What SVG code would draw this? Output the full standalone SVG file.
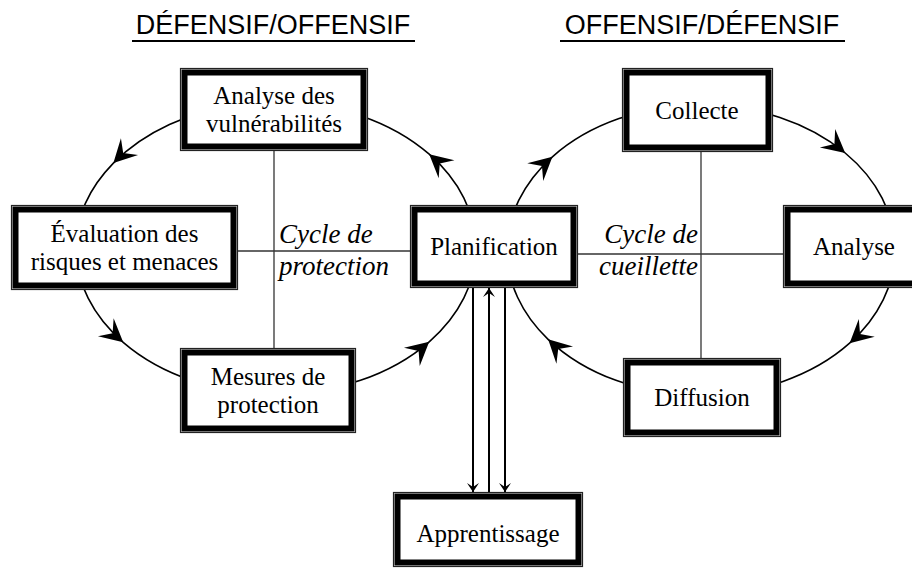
<svg xmlns="http://www.w3.org/2000/svg" width="912" height="571" viewBox="0 0 912 571">
<defs>
<style>
.title{font-family:"Liberation Sans",Arial,sans-serif;font-size:27px;fill:#000;text-anchor:middle}
.lbl{font-family:"Liberation Serif","Times New Roman",serif;font-size:25px;fill:#000;text-anchor:middle}
.cyc{font-family:"Liberation Serif","Times New Roman",serif;font-size:27px;font-style:italic;fill:#000}
.outer{fill:#fff;stroke:#222;stroke-width:1.2}
.inner{fill:#fff;stroke:#000;stroke-width:6}
.arc{fill:none;stroke:#000;stroke-width:1.6}
.cross{fill:none;stroke:#333;stroke-width:1.3}
.vline{fill:none;stroke:#000;stroke-width:2}
</style>
<marker id="big" markerUnits="userSpaceOnUse" markerWidth="30" markerHeight="30" viewBox="-25 -15 27 30" refX="0" refY="0" orient="auto" overflow="visible">
<path d="M0,0 L-23,-12 L-14,0 L-23,12 Z" fill="#000"/>
</marker>
<marker id="small" markerUnits="userSpaceOnUse" markerWidth="12" markerHeight="12" viewBox="-10 -6 11 12" refX="0" refY="0" orient="auto" overflow="visible">
<path d="M0,0 L-9,-6 L-5,0 L-9,6 Z" fill="#000"/>
</marker>
</defs>
<rect width="912" height="571" fill="#fff"/>

<g id="titles">
<text class="title" x="273" y="34">DÉFENSIF/OFFENSIF</text>
<line x1="132" y1="41" x2="415" y2="41" stroke="#000" stroke-width="2"/>
<text class="title" x="702" y="34">OFFENSIF/DÉFENSIF</text>
<line x1="560" y1="41" x2="845" y2="41" stroke="#000" stroke-width="2"/>
</g>

<g id="connectors">
<line class="cross" x1="274" y1="150" x2="274" y2="348"/>
<line class="cross" x1="237" y1="251" x2="410" y2="251"/>
<line class="cross" x1="701" y1="151" x2="701" y2="358"/>
<line class="cross" x1="578" y1="254" x2="783" y2="254"/>
<path class="arc" marker-mid="url(#big)" d="M241.3,104.2 A200,146 0 0 0 113.4,163.1 A200,146 0 0 0 76,248"/>
<path class="arc" marker-mid="url(#big)" d="M76,248 A200,146 0 0 0 123.2,342.3 A200,146 0 0 0 276,394"/>
<path class="arc" marker-mid="url(#big)" d="M276,394 A200,146 0 0 0 429.2,341.8 A200,146 0 0 0 476,248"/>
<path class="arc" marker-mid="url(#big)" d="M476,248 A200,146 0 0 0 429.2,154.2 A200,146 0 0 0 276,102"/>
<path class="arc" marker-mid="url(#big)" d="M701,105 A194,145 0 0 1 845.2,153 A194,145 0 0 1 895,250"/>
<path class="arc" marker-mid="url(#big)" d="M895,250 A194,145 0 0 1 849.6,343.2 A194,145 0 0 1 701,395"/>
<path class="arc" marker-mid="url(#big)" d="M701,395 A194,145 0 0 1 548.1,339.3 A194,145 0 0 1 507,250"/>
<path class="arc" marker-mid="url(#big)" d="M507,250 A194,145 0 0 1 552.4,156.8 A194,145 0 0 1 701,105"/>
<line class="vline" x1="473" y1="287" x2="473" y2="492" marker-end="url(#small)"/>
<line class="vline" x1="489" y1="492" x2="489" y2="288" marker-end="url(#small)"/>
<line class="vline" x1="505" y1="287" x2="505" y2="492" marker-end="url(#small)"/>
</g>

<g id="analyse-vuln">
<rect class="outer" x="180.5" y="68.5" width="187" height="82"/>
<rect class="inner" x="184.5" y="72.5" width="179" height="74"/>
<text class="lbl" x="274" y="104">Analyse des</text>
<text class="lbl" x="274" y="132">vulnérabilités</text>
</g>
<g id="evaluation">
<rect class="outer" x="11.5" y="205.5" width="226" height="84"/>
<rect class="inner" x="15.5" y="209.5" width="218" height="76"/>
<text class="lbl" x="124.5" y="242">Évaluation des</text>
<text class="lbl" x="124.5" y="270">risques et menaces</text>
</g>
<g id="mesures">
<rect class="outer" x="180.5" y="348.5" width="175" height="84"/>
<rect class="inner" x="184.5" y="352.5" width="167" height="76"/>
<text class="lbl" x="268" y="385">Mesures de</text>
<text class="lbl" x="268" y="413">protection</text>
</g>
<g id="planification">
<rect class="outer" x="410.5" y="205.5" width="167" height="82"/>
<rect class="inner" x="414.5" y="209.5" width="159" height="74"/>
<text class="lbl" x="494" y="255">Planification</text>
</g>
<g id="collecte">
<rect class="outer" x="622.5" y="68.5" width="150" height="83"/>
<rect class="inner" x="626.5" y="72.5" width="142" height="75"/>
<text class="lbl" x="697" y="119">Collecte</text>
</g>
<g id="analyse">
<rect class="outer" x="783.5" y="205.5" width="141" height="82"/>
<rect class="inner" x="787.5" y="209.5" width="133" height="74"/>
<text class="lbl" x="854" y="255">Analyse</text>
</g>
<g id="diffusion">
<rect class="outer" x="623.5" y="358.5" width="157" height="78"/>
<rect class="inner" x="627.5" y="362.5" width="149" height="70"/>
<text class="lbl" x="702" y="406">Diffusion</text>
</g>
<g id="apprentissage">
<rect class="outer" x="393.5" y="492.5" width="189" height="74"/>
<rect class="inner" x="397.5" y="496.5" width="181" height="66"/>
<text class="lbl" x="488" y="542">Apprentissage</text>
</g>
<g id="cycle-labels">
<text class="cyc" x="279" y="243">Cycle de</text>
<text class="cyc" x="279" y="275">protection</text>
<text class="cyc" x="698" y="243" text-anchor="end">Cycle de</text>
<text class="cyc" x="698" y="275" text-anchor="end">cueillette</text>
</g>
</svg>
